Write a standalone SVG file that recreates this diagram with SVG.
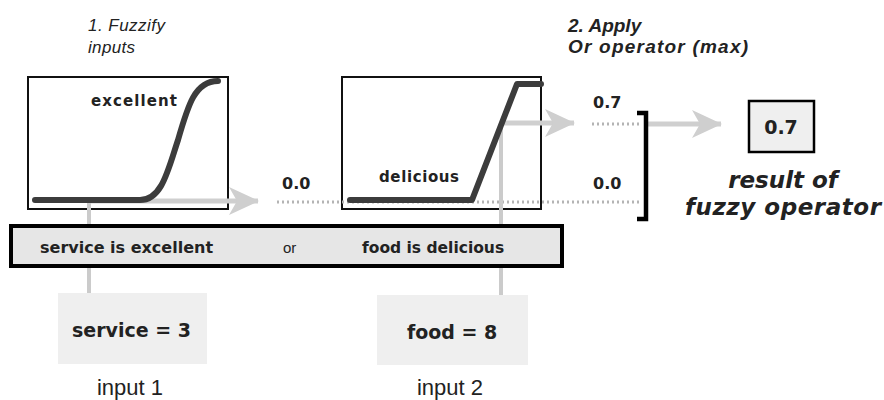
<svg xmlns="http://www.w3.org/2000/svg" width="884" height="400" viewBox="0 0 884 400">
<defs>
<marker id="ah" markerUnits="userSpaceOnUse" viewBox="0 0 30 30" refX="29" refY="15" markerWidth="30" markerHeight="30" orient="auto">
<path d="M0,1 L30,15 L0,29 L8,15 Z" fill="#cfcfcf"/>
</marker>
<style>
.mf{fill:#fff;stroke:#111;stroke-width:2}
.curve{fill:none;stroke:#3c3c3c;stroke-width:6;stroke-linecap:round;stroke-linejoin:round}
.gl{fill:none;stroke:#cbcbcb;stroke-width:4}
.ga{fill:none;stroke:#cfcfcf;stroke-width:5}
.dot{fill:none;stroke:#b4b4b4;stroke-width:3;stroke-dasharray:2 3}
.b{font-family:"DejaVu Sans",Verdana,sans-serif;font-weight:bold;fill:#222}
.r{font-family:"Liberation Sans",Arial,sans-serif;fill:#222}
.inbox{fill:#efefef}
</style>
</defs>
<rect width="884" height="400" fill="#fff"/>

<text class="r" x="88" y="31" font-size="17" font-style="italic" textLength="77">1. Fuzzify</text>
<text class="r" x="88" y="53" font-size="17" font-style="italic" textLength="47">inputs</text>
<text class="r" x="568" y="32" font-size="19" font-style="italic" font-weight="bold">2. Apply</text>
<text class="r" x="568" y="53" font-size="19" font-style="italic" font-weight="bold" textLength="180">Or operator (max)</text>

<g id="mf-excellent">
<rect class="mf" x="28" y="77" width="200" height="132"/>
<text class="b" x="91" y="106" font-size="15" textLength="86">excellent</text>
</g>
<g id="mf-delicious">
<rect class="mf" x="342" y="77" width="199" height="132"/>
<text class="b" x="379" y="182" font-size="15" textLength="80">delicious</text>
</g>

<g id="connectors">
<line class="gl" x1="89" y1="201" x2="89" y2="293"/>
<line class="ga" x1="89" y1="201" x2="258" y2="201" marker-end="url(#ah)"/>
<line class="dot" x1="277" y1="202" x2="640" y2="202"/>
<line class="gl" x1="501" y1="123" x2="501" y2="295"/>
<line class="ga" x1="501" y1="123" x2="574" y2="123" marker-end="url(#ah)"/>
<line class="dot" x1="592" y1="124" x2="640" y2="124"/>
<line class="ga" x1="648" y1="124" x2="721" y2="124" marker-end="url(#ah)"/>
<path d="M637,113 H646 V219 H637" fill="none" stroke="#000" stroke-width="4.5"/>
</g>

<path class="curve" d="M35,200 L140,200 C162,200 168,170 178,140 C188,105 195,81 218,81"/>
<path class="curve" d="M350,200 L472,200 L517,84 L541,84" stroke-linecap="butt"/>

<text class="b" x="282" y="189" font-size="16">0.0</text>
<text class="b" x="593" y="108" font-size="16">0.7</text>
<text class="b" x="593" y="189" font-size="16">0.0</text>

<g id="rule">
<rect x="11" y="226" width="551" height="40" fill="#e6e6e6" stroke="#000" stroke-width="4"/>
<text class="b" x="40" y="253" font-size="16">service is excellent</text>
<text class="r" x="283" y="253" font-size="15">or</text>
<text class="b" x="362" y="253" font-size="15.5">food is delicious</text>
</g>

<g id="input1">
<rect class="inbox" x="58" y="293" width="149" height="71"/>
<text class="b" x="72" y="337" font-size="19">service = 3</text>
<text class="r" x="130" y="395" font-size="22" text-anchor="middle">input 1</text>
</g>
<g id="input2">
<rect class="inbox" x="377" y="295" width="151" height="70"/>
<text class="b" x="407" y="339" font-size="19">food = 8</text>
<text class="r" x="450" y="395" font-size="22" text-anchor="middle">input 2</text>
</g>

<g id="result">
<rect x="749" y="101" width="65" height="51" fill="#efefef" stroke="#000" stroke-width="2.5"/>
<text class="b" x="781" y="134" font-size="19" text-anchor="middle">0.7</text>
<text class="b" x="783" y="188" font-size="23" font-style="italic" text-anchor="middle">result of</text>
<text class="b" x="783" y="215" font-size="23" font-style="italic" text-anchor="middle" textLength="196">fuzzy operator</text>
</g>
</svg>
